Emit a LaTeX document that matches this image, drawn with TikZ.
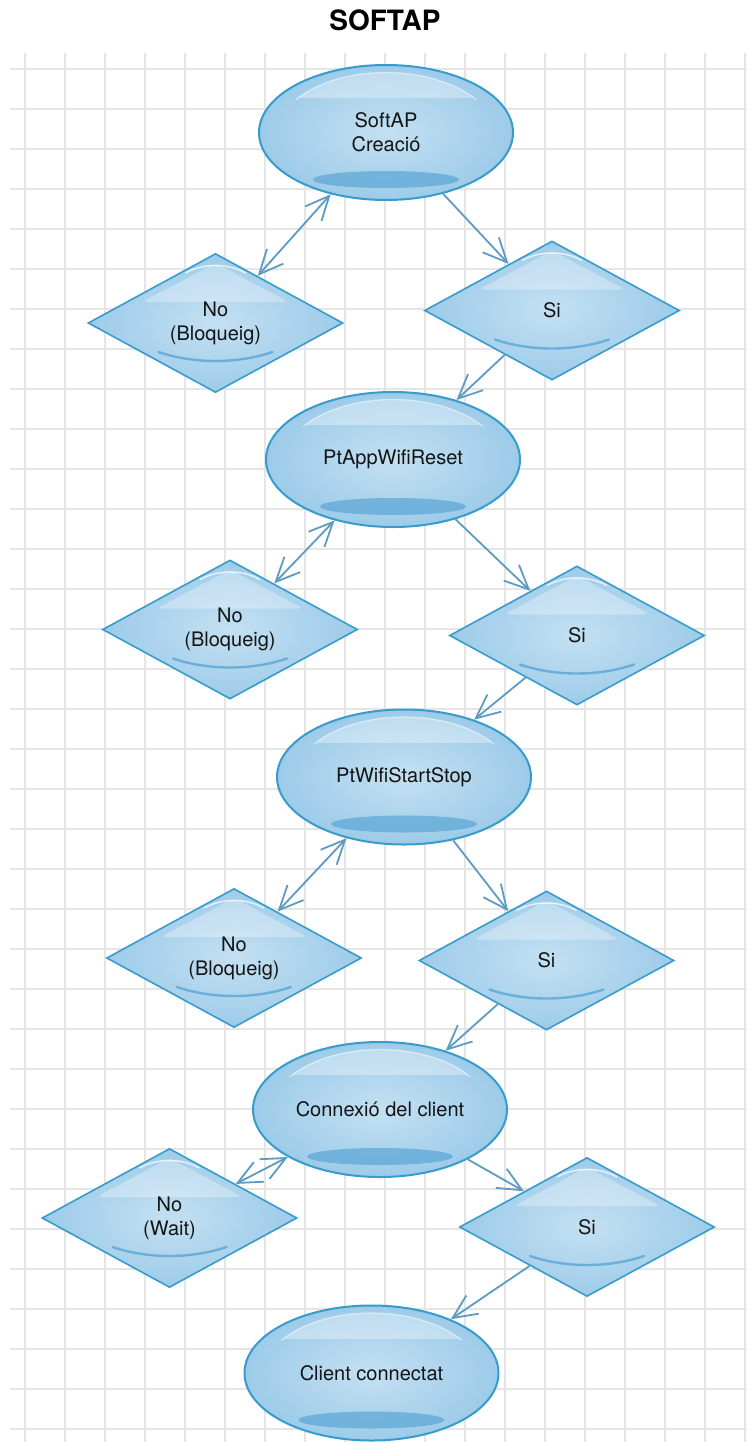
\documentclass[tikz,border=0pt]{standalone}
\usepackage{fontspec}
\setmainfont{TeX Gyre Heros}
\usetikzlibrary{shapes.geometric,arrows.meta}

\definecolor{gridgray}{HTML}{E5E5E5}
\definecolor{shapeedge}{HTML}{379CCC}
\definecolor{fillin}{HTML}{C4E0F2}
\definecolor{fillmid}{HTML}{A2CEEA}
\definecolor{fillout}{HTML}{6CAEDB}
\definecolor{glossdark}{HTML}{5AA6D5}
\definecolor{linkblue}{HTML}{5E9BC3}

% glossy blue body: light centre, darker rim
\pgfdeclareradialshading{glossy}{\pgfpoint{0bp}{0bp}}{%
  color(0bp)=(fillin); color(22bp)=(fillmid); color(44bp)=(fillout!85!fillmid);
  color(50bp)=(fillout); color(72bp)=(fillout)}

% state bubble: body, gloss, then its label
\newcommand\statebox[4]{%
  \node[oval] (#1) at (#2,#3) {};
  \begin{scope}[shift={(#1.center)}]
    \begin{scope}
      \clip (0pt,0pt) ellipse [x radius=126pt, y radius=66.5pt];
      \clip (-127pt,35pt) rectangle (127pt,70pt);
      \fill[white, opacity=.33] (0pt,-4pt) ellipse [x radius=110pt, y radius=64pt];
    \end{scope}
    \draw[white, opacity=.5, line width=1.2pt]
      (-90pt,32.7pt) arc [start angle=145, end angle=35, x radius=110pt, y radius=64pt];
    \fill[glossdark, opacity=.7] (0pt,-47pt) ellipse [x radius=73pt, y radius=8.5pt];
  \end{scope}
  \node[lbl] (#1-text) at (#1.center) {#4};}

% decision diamond: body, gloss, then its label
\newcommand\choice[4]{%
  \node[rhomb] (#1) at (#2,#3) {};
  \begin{scope}[shift={(#1.center)}]
    \fill[white, opacity=.3, rounded corners=5pt] (0pt,60pt) -- (73pt,21pt) -- (-73pt,21pt) -- cycle;
    \draw[white, opacity=.75, line width=1.4pt]
      (-30pt,50pt) .. controls (-12pt,60pt) and (12pt,60pt) .. (30pt,50pt);
    \draw[glossdark, opacity=.8, line width=2.4pt, line cap=round]
      (-57pt,-29pt) .. controls (-22pt,-41pt) and (22pt,-41pt) .. (57pt,-29pt);
  \end{scope}
  \node[lbl] (#1-text) at (#1.center) {#4};}

\begin{document}
\begin{tikzpicture}[x=1pt,y=-1pt,
  lbl/.style={font=\fontsize{20}{24}\selectfont, align=center, text=black!92, inner sep=0pt},
  oval/.style={ellipse, draw=shapeedge, line width=2pt, inner sep=0pt,
    minimum width=254pt, minimum height=135pt, shading=glossy},
  rhomb/.style={diamond, aspect=1.83, draw=shapeedge, line width=1.6pt, inner sep=0pt,
    minimum width=255pt, minimum height=139pt, shading=glossy},
  link/.style={draw=linkblue, line width=1.8pt},
  >={Straight Barb[length=24pt,width=22pt]}
]
\useasboundingbox (0,0) rectangle (747,1442);
\fill[white] (0,0) rectangle (747,1442);

% background grid
\foreach \gx in {25,65,...,745} \draw[gridgray, line width=1.4pt] (\gx,53) -- (\gx,1442);
\foreach \gy in {69,109,...,1430} \draw[gridgray, line width=1.4pt] (10,\gy) -- (747,\gy);

% title
\node[font=\fontsize{28}{32}\selectfont\bfseries] (title) at (385,20) {SOFTAP};

% states and decisions
\statebox{e1}{386}{132.5}{SoftAP\\Creació}
\choice{d1}{215.5}{323}{No\\(Bloqueig)}
\choice{d2}{552}{310.5}{Si}
\statebox{e2}{393}{459.5}{PtAppWifiReset}
\choice{d3}{230}{629.5}{No\\(Bloqueig)}
\choice{d4}{577}{635.5}{Si}
\statebox{e3}{404}{777}{PtWifiStartStop}
\choice{d5}{234}{958}{No\\(Bloqueig)}
\choice{d6}{546.5}{960.5}{Si}
\statebox{e4}{380}{1109.5}{Connexió del client}
\choice{d7}{169.5}{1218}{No\\(Wait)}
\choice{d8}{587}{1227}{Si}
\statebox{e5}{371.5}{1373}{Client connectat}

% connectors
\draw[link,<->] (e1) -- (d1);
\draw[link,->]  (e1) -- (d2);
\draw[link,->]  (d2) -- (e2);
\draw[link,<->] (e2) -- (d3);
\draw[link,->]  (e2) -- (d4);
\draw[link,->]  (d4) -- (e3);
\draw[link,<->] (e3) -- (d5);
\draw[link,->]  (e3) -- (d6);
\draw[link,->]  (d6) -- (e4);
\draw[link,<->] (e4) -- (d7);
\draw[link,->]  (e4) -- (d8);
\draw[link,->]  (d8) -- (e5);
\end{tikzpicture}
\end{document}
